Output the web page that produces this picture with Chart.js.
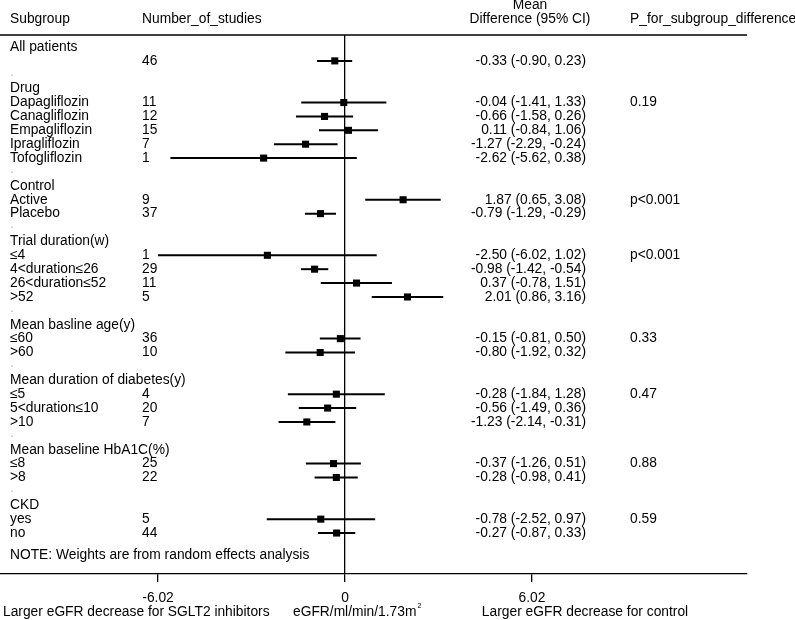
<!DOCTYPE html>
<html><head><meta charset="utf-8">
<script src="https://cdn.jsdelivr.net/npm/chart.js@4/dist/chart.umd.min.js"></script>
<style>html,body{margin:0;padding:0;background:#fff;}canvas{display:block;}</style>
</head><body>
<canvas id="c" width="795" height="620"></canvas>
<script>
// ---- data (one entry per table row) ----
const rowLabels = ["All patients","",".","Drug","Dapagliflozin","Canagliflozin","Empagliflozin","Ipragliflozin","Tofogliflozin",".",
  "Control","Active","Placebo",".","Trial duration(w)","≤4","4<duration≤26","26<duration≤52",">52",".",
  "Mean basline age(y)","≤60",">60",".","Mean duration of diabetes(y)","≤5","5<duration≤10",">10",".",
  "Mean baseline HbA1C(%)","≤8",">8",".","CKD","yes","no"];
const studyCounts = [null,46,null,null,11,12,15,7,1,null,null,9,37,null,null,1,29,11,5,null,null,36,10,null,null,4,20,7,null,null,25,22,null,null,5,44];
const meanDiff = [null,-0.33,null,null,-0.04,-0.66,0.11,-1.27,-2.62,null,null,1.87,-0.79,null,null,-2.50,-0.98,0.37,2.01,null,null,-0.15,-0.80,null,null,-0.28,-0.56,-1.23,null,null,-0.37,-0.28,null,null,-0.78,-0.27];
const ciLower = [null,-0.90,null,null,-1.41,-1.58,-0.84,-2.29,-5.62,null,null,0.65,-1.29,null,null,-6.02,-1.42,-0.78,0.86,null,null,-0.81,-1.92,null,null,-1.84,-1.49,-2.14,null,null,-1.26,-0.98,null,null,-2.52,-0.87];
const ciUpper = [null,0.23,null,null,1.33,0.26,1.06,-0.24,0.38,null,null,3.08,-0.29,null,null,1.02,-0.54,1.51,3.16,null,null,0.50,0.32,null,null,1.28,0.36,-0.31,null,null,0.51,0.41,null,null,0.97,0.33];
const pValues = [null,null,null,null,"0.19",null,null,null,null,null,null,"p<0.001",null,null,null,"p<0.001",null,null,null,null,null,"0.33",null,null,null,"0.47",null,null,null,null,"0.88",null,null,null,"0.59",null];
const xTicks = [-6.02, 0, 6.02];
const headers = ["Subgroup","Number_of_studies","Mean","Difference (95% CI)","P_for_subgroup_difference"];
const noteText = "NOTE: Weights are from random effects analysis";
const leftCaption = "Larger eGFR decrease for SGLT2 inhibitors";
const unitCaption = "eGFR/ml/min/1.73m";
const rightCaption = "Larger eGFR decrease for control";

const FONT = '13.8px "Liberation Sans", Arial, sans-serif';
Chart.defaults.font.family = '"Liberation Sans", Arial, sans-serif';
Chart.defaults.font.size = 13.8;
Chart.defaults.color = '#000';

const pointData = [], ciSets = [];
rowLabels.forEach((l, i) => {
  if (meanDiff[i] !== null) {
    pointData.push({x: meanDiff[i], y: i});
    ciSets.push({type:'line', data:[{x:ciLower[i], y:i},{x:ciUpper[i], y:i}], borderColor:'#000', borderWidth:2,
      pointRadius:0, showLine:true, fill:false, order:2});
  }
});

const fmt = v => v.toFixed(2);

const tablePlugin = {
  id: 'table',
  afterDraw(chart) {
    const ctx = chart.ctx, ca = chart.chartArea, ys = chart.scales.y;
    ctx.save();
    ctx.fillStyle = '#000';
    ctx.strokeStyle = '#000';
    ctx.lineWidth = 1.3;
    ctx.beginPath(); ctx.moveTo(0, ca.top); ctx.lineTo(ca.right, ca.top); ctx.stroke();
    ctx.font = FONT;
    ctx.textBaseline = 'middle';
    ctx.textAlign = 'left';
    ctx.fillText(headers[0], 10, 19);
    ctx.fillText(headers[1], 142, 19);
    ctx.textAlign = 'center';
    ctx.fillText(headers[2], 530, 5);
    ctx.fillText(headers[3], 530, 19);
    ctx.textAlign = 'left';
    ctx.fillText(headers[4], 630, 19);
    rowLabels.forEach((l, i) => {
      const y = ys.getPixelForValue(i);
      ctx.textAlign = 'left';
      if (l === '.') {
        ctx.fillStyle = '#bbb';
        ctx.fillText('.', 10, y - 3);
        ctx.fillStyle = '#000';
      } else if (l) {
        ctx.fillText(l, 10, y);
      }
      if (studyCounts[i] !== null) ctx.fillText(String(studyCounts[i]), 142, y);
      if (pValues[i] !== null) ctx.fillText(pValues[i], 630, y);
      if (meanDiff[i] !== null) {
        ctx.textAlign = 'right';
        ctx.fillText(fmt(meanDiff[i]) + ' (' + fmt(ciLower[i]) + ', ' + fmt(ciUpper[i]) + ')', 586, y);
      }
    });
    ctx.textAlign = 'left';
    ctx.fillText(noteText, 10, 555);
    // bottom captions
    ctx.fillText(leftCaption, 3, 612);
    ctx.fillText(unitCaption, 293, 612);
    const w = ctx.measureText(unitCaption).width;
    ctx.font = '7px "Liberation Sans", Arial, sans-serif';
    ctx.fillText('2', 293 + w + 1, 606);
    ctx.font = FONT;
    ctx.textAlign = 'center';
    ctx.fillText(rightCaption, 585, 612);
    ctx.restore();
  }
};

new Chart(document.getElementById('c'), {
  type: 'scatter',
  data: {
    datasets: [
      {type:'scatter', data: pointData, pointStyle:'rect', pointRadius:5, pointHoverRadius:5,
        backgroundColor:'#000', borderColor:'#000', borderWidth:0, order:1},
      ...ciSets
    ]
  },
  options: {
    responsive: false,
    animation: false,
    devicePixelRatio: 1,
    layout: {autoPadding: false, padding: {top: 35, right: 48, left: 0, bottom: 0}},
    plugins: {legend: {display: false}, tooltip: {enabled: false}},
    scales: {
      x: {
        type: 'linear', min: -11.107, max: 12.94,
        afterBuildTicks: s => { s.ticks = xTicks.map(v => ({value: v})); },
        afterFit: s => { s.height = 46; },
        ticks: {callback: v => v === 0 ? '0' : v.toFixed(2), padding: 8, maxRotation: 0, autoSkip: false,
          font: {size: 13.8}, color: '#000'},
        grid: {drawOnChartArea: true, drawTicks: true, tickLength: 8, tickColor: '#000', tickWidth: 1.3,
          color: c => (c.tick && c.tick.value === 0) ? '#000' : 'rgba(0,0,0,0)', lineWidth: 1.3},
        border: {display: true, color: '#000', width: 1.3}
      },
      y: {type: 'linear', display: false, reverse: true, min: -0.864, max: 37.95}
    }
  },
  plugins: [tablePlugin]
});
</script>
</body></html>
